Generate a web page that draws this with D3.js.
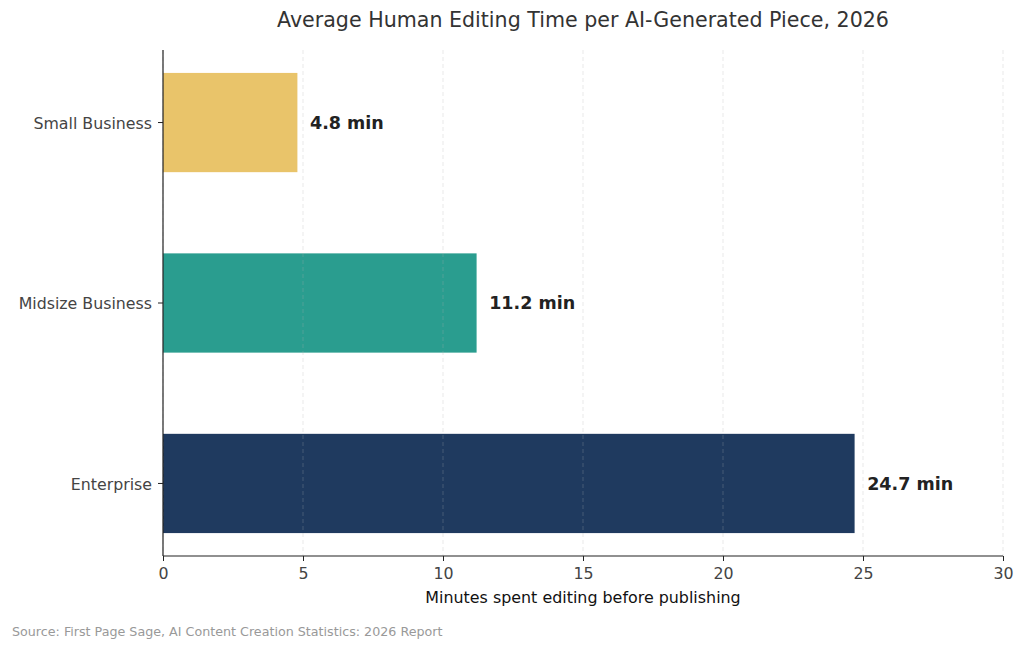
<!DOCTYPE html>
<html>
<head>
<meta charset="utf-8">
<script src="https://cdn.jsdelivr.net/npm/d3@7"></script>
<style>
  body { margin: 0; background: #fff; }
  svg text { font-family: 'DejaVu Sans', sans-serif; }
</style>
</head>
<body>
<div id="chart"></div>
<script>
var chart_width = 1024
var chart_height = 650
var margin = { top: 50, right: 21, bottom: 94, left: 163 }

// data
var categories = ['Enterprise', 'Midsize Business', 'Small Business']
var minutes = [24.7, 11.2, 4.8]
var colors = ['#1f3a5f', '#2a9d8f', '#e9c46a']
var x_ticks = [0, 5, 10, 15, 20, 25, 30]

var title = 'Average Human Editing Time per AI-Generated Piece, 2026'
var x_label = 'Minutes spent editing before publishing'
var source = 'Source: First Page Sage, AI Content Creation Statistics: 2026 Report'

var svg = d3.select('#chart')
  .append('svg')
  .attr('width', chart_width)
  .attr('height', chart_height)

var x_scale = d3.scaleLinear()
  .domain([0, 30])
  .range([margin.left, chart_width - margin.right])

// Enterprise at the bottom, small business on top
var y_scale = d3.scaleBand()
  .domain(categories.slice().reverse())
  .range([margin.top, chart_height - margin.bottom])
  .paddingInner(0.45)
  .paddingOuter(0.127)

var data = categories.map(function(c, i) {
  return { name: c, value: minutes[i], color: colors[i] }
})

// bars
svg.append('g')
  .selectAll('rect')
  .data(data)
  .enter()
  .append('rect')
  .attr('x', x_scale(0))
  .attr('y', d => y_scale(d.name))
  .attr('width', d => x_scale(d.value) - x_scale(0))
  .attr('height', y_scale.bandwidth())
  .attr('fill', d => d.color)

// dashed grid on top of bars
svg.append('g')
  .selectAll('line')
  .data(x_ticks)
  .enter()
  .append('line')
  .attr('x1', d => x_scale(d))
  .attr('x2', d => x_scale(d))
  .attr('y1', margin.top)
  .attr('y2', chart_height - margin.bottom)
  .attr('stroke', '#b0b0b0')
  .attr('stroke-opacity', 0.35)
  .attr('stroke-width', 0.8)
  .attr('stroke-dasharray', '4,3')

// value labels
svg.append('g')
  .selectAll('text')
  .data(data)
  .enter()
  .append('text')
  .attr('x', d => x_scale(d.value + 0.45))
  .attr('y', d => y_scale(d.name) + y_scale.bandwidth() / 2)
  .attr('dy', '0.35em')
  .attr('font-size', '17.5px')
  .attr('font-weight', 'bold')
  .attr('fill', '#222')
  .text(d => d.value.toFixed(1) + ' min')

// axes
var x_axis = d3.axisBottom(x_scale)
  .tickValues(x_ticks)
  .tickSize(5)
  .tickPadding(7)
svg.append('g')
  .attr('class', 'x-axis')
  .attr('transform', 'translate(0, ' + (chart_height - margin.bottom) + ')')
  .call(x_axis)

var y_axis = d3.axisLeft(y_scale)
  .tickSize(5)
  .tickPadding(6)
svg.append('g')
  .attr('class', 'y-axis')
  .attr('transform', 'translate(' + margin.left + ', 0)')
  .call(y_axis)

svg.selectAll('.x-axis path, .y-axis path')
  .attr('d', function() {
    return d3.select(this.parentNode).classed('x-axis')
      ? 'M' + margin.left + ',0H' + (chart_width - margin.right)
      : 'M0,' + margin.top + 'V' + (chart_height - margin.bottom)
  })
  .attr('stroke', '#222')
  .attr('stroke-width', 1.2)
svg.selectAll('.tick line').attr('stroke', '#222')
svg.selectAll('.tick text')
  .attr('font-size', '15.8px')
  .attr('fill', '#444')
  .attr('font-family', 'DejaVu Sans')
svg.selectAll('.y-axis .tick text').attr('dy', '0.4em')

// title, axis label, source
svg.append('text')
  .attr('x', (margin.left + chart_width - margin.right) / 2)
  .attr('y', 27)
  .attr('text-anchor', 'middle')
  .attr('font-size', '20.6px')
  .attr('fill', '#333')
  .text(title)

svg.append('text')
  .attr('x', (margin.left + chart_width - margin.right) / 2)
  .attr('y', 603)
  .attr('text-anchor', 'middle')
  .attr('font-size', '15.9px')
  .attr('fill', '#111')
  .text(x_label)

svg.append('text')
  .attr('x', 12)
  .attr('y', 636)
  .attr('font-size', '12.7px')
  .attr('fill', '#999')
  .text(source)
</script>
</body>
</html>
